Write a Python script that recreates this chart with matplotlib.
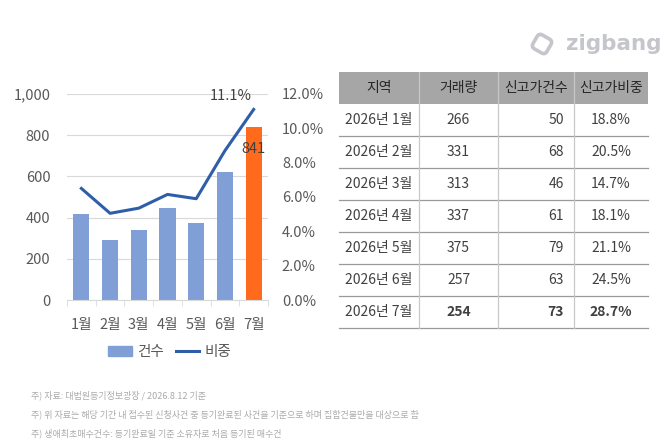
import matplotlib
matplotlib.use('Agg')
import matplotlib.pyplot as plt
import matplotlib.transforms as mtransforms
from matplotlib.patches import Rectangle, FancyBboxPatch
from matplotlib.lines import Line2D

plt.rcParams['font.family'] = ['Noto Sans CJK KR', 'DejaVu Sans']

# 차트 데이터
months = ['1월', '2월', '3월', '4월', '5월', '6월', '7월']
counts = [417, 291, 340, 445, 375, 623, 841]
share = [6.5, 5.05, 5.35, 6.15, 5.9, 8.7, 11.1]

# 표 데이터
tbl_header = ['지역', '거래량', '신고가건수', '신고가비중']
tbl_period = ['2026년 1월', '2026년 2월', '2026년 3월', '2026년 4월',
              '2026년 5월', '2026년 6월', '2026년 7월']
tbl_volume = [266, 331, 313, 337, 375, 257, 254]
tbl_high = [50, 68, 46, 61, 79, 63, 73]
tbl_ratio = ['18.8%', '20.5%', '14.7%', '18.1%', '21.1%', '24.5%', '28.7%']

notes = ['주) 자료: 대법원등기정보광장 / 2026.8.12 기준',
         '주) 위 자료는 해당 기간 내 접수된 신청사건 중 등기완료된 사건을 기준으로 하며 집합건물만을 대상으로 함',
         '주) 생애최초매수건수: 등기완료일 기준 소유자로 처음 등기된 매수건']

W, H = 670, 442
fig = plt.figure(figsize=(W / 100, H / 100), dpi=100)

TXT = '#595959'
BLUE_BAR = '#7f9fd6'
ORANGE = '#ff6a1c'
LINE = '#2f5ea9'

# ── 왼쪽 콤보 차트 ──
ax = fig.add_axes([67 / W, 1 - 300 / H, 201 / W, 206 / H])
x = range(len(months))
bar_colors = [BLUE_BAR] * 6 + [ORANGE]
ax.bar(x, counts, width=0.56, color=bar_colors, zorder=2)
ax.set_xlim(-0.5, 6.5)
ax.set_ylim(0, 1000)
ax.set_yticks(range(0, 1001, 200))
ax.set_yticklabels(['0', '200', '400', '600', '800', '1,000'])
ax.grid(axis='y', color='#d9d9d9', lw=0.8, zorder=0)
for s in ['top', 'left', 'right']:
    ax.spines[s].set_visible(False)
ax.spines['bottom'].set_color('#d9d9d9')
ax.set_xticks(x)
ax.set_xticklabels(months)
ax.set_xticks([i + 0.5 for i in range(-1, 7)], minor=True)
ax.tick_params(axis='x', which='major', length=0, pad=13, labelsize=10.5, labelcolor=TXT)
ax.tick_params(axis='x', which='minor', length=4, color='#d9d9d9')
ax.tick_params(axis='y', length=0, pad=12, labelsize=10.5, labelcolor=TXT)
ax.text(6, counts[6] - 110, f'{counts[6]}', ha='center', va='center',
        fontsize=10.5, color='#404040', zorder=4)

ax2 = ax.twinx()
ax2.plot(x, share, color=LINE, lw=2.2, zorder=3)
ax2.set_ylim(0, 12)
ax2.set_yticks(range(0, 13, 2))
ax2.set_yticklabels([f'{v:.1f}%' for v in range(0, 13, 2)])
for s in ['top', 'left', 'right', 'bottom']:
    ax2.spines[s].set_visible(False)
ax2.tick_params(axis='y', length=0, pad=10, labelsize=10.5, labelcolor=TXT)
ax2.text(5.2, share[6] + 0.35, f'{share[6]}%', ha='center', va='bottom',
         fontsize=10.5, color='#404040')

leg_handles = [Rectangle((0, 0), 1, 1, color=BLUE_BAR), Line2D([], [], color=LINE, lw=2.2)]
fig.legend(leg_handles, ['건수', '비중'], loc='center', bbox_to_anchor=(170 / W, 1 - 352 / H),
           ncol=2, frameon=False, fontsize=10.5, labelcolor=TXT, handlelength=1.6,
           columnspacing=0.8, handletextpad=0.4)

# ── 오른쪽 표 + 주석 + 로고 (픽셀 좌표 오버레이) ──
ov = fig.add_axes([0, 0, 1, 1])
ov.set_xlim(0, W)
ov.set_ylim(H, 0)
ov.axis('off')

left, right = 339, 648
cols = [339, 419, 498, 574, 648]
top, head_h, row_h = 72, 32, 32
ov.add_patch(Rectangle((left, top), right - left, head_h, color='#a6a6a6', lw=0))
for i, h in enumerate(tbl_header):
    ov.text((cols[i] + cols[i + 1]) / 2, top + head_h / 2, h, ha='center', va='center',
            fontsize=10, color='#262626')
lc = '#9a9a9a'
for k in range(1, 8):
    yy = top + head_h + row_h * k
    ov.plot([left, right], [yy, yy], color=lc, lw=0.9)
for cx in cols[1:4]:
    ov.plot([cx, cx], [top, top + head_h + row_h * 7], color='#c8c8c8', lw=0.9)

for r in range(7):
    yc = top + head_h + row_h * r + row_h / 2
    fw = 'bold' if r == 6 else 'normal'
    ov.text((cols[0] + cols[1]) / 2, yc, tbl_period[r], ha='center', va='center',
            fontsize=10, color='#404040')
    ov.text((cols[1] + cols[2]) / 2, yc, f'{tbl_volume[r]}', ha='center', va='center',
            fontsize=10, color='#404040', fontweight=fw)
    ov.text(cols[3] - 10, yc, f'{tbl_high[r]}', ha='right', va='center',
            fontsize=10, color='#404040', fontweight=fw)
    ov.text((cols[3] + cols[4]) / 2, yc, tbl_ratio[r], ha='center', va='center',
            fontsize=10, color='#404040', fontweight=fw)

for i, n in enumerate(notes):
    ov.text(31, 395 + 19 * i, n, ha='left', va='center', fontsize=6.5, color='#aaaaaa')

# 로고
logo_c = '#c5c6cb'
icon = FancyBboxPatch((-8, -8), 16, 16, boxstyle='round,pad=0,rounding_size=4',
                      fill=False, ec=logo_c, lw=2.6)
icon.set_transform(mtransforms.Affine2D().rotate_deg(30).translate(542, 44) + ov.transData)
ov.add_patch(icon)
ov.text(566, 44, 'zigbang', ha='left', va='center', fontsize=15.5, fontweight='bold',
        color=logo_c, family='DejaVu Sans')

fig.savefig('out.png', dpi=100)
